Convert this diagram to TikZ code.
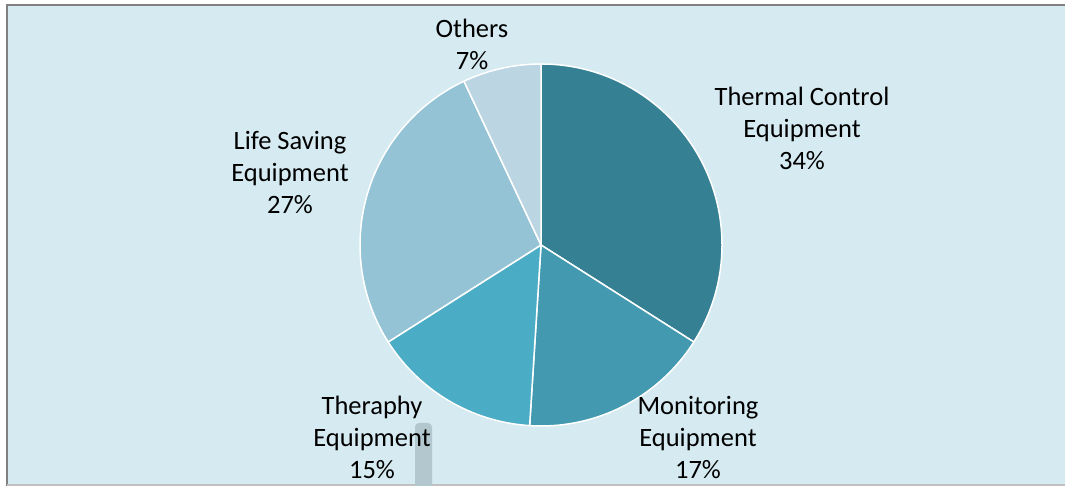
\documentclass[tikz,border=0pt]{standalone}
\usepackage{fontspec}
\setmainfont{Carlito}
\definecolor{bgblue}{RGB}{214, 234, 241}
\definecolor{framegray}{RGB}{128, 128, 128}
\definecolor{bargray}{RGB}{178, 199, 206}
\definecolor{thermalc}{RGB}{54, 128, 148}
\definecolor{monitorc}{RGB}{66, 153, 176}
\definecolor{therapyc}{RGB}{75, 172, 198}
\definecolor{lifec}{RGB}{147, 195, 213}
\definecolor{othersc}{RGB}{187, 214, 226}
\usepackage{tikz}
\usetikzlibrary{positioning, calc}

\tikzset{
  slice/.style={draw=white, line width=1.5pt, line join=round},
  pielabel/.style={align=center, inner sep=0pt, font=\fontsize{26.5}{32}\selectfont}
}

\begin{document}
\begin{tikzpicture}[x=1pt, y=1pt]
  \useasboundingbox (0,0) rectangle (1065,486);

  % Background and frame
  \fill[bgblue] (7,0) rectangle (1065,481);
  \draw[framegray, line width=2.5pt] (7,0) -- (7,481) -- (1065,481);
  \draw[framegray!50, line width=1.5pt] (7,1) -- (1065,1);

  % Pie
  \coordinate (c) at (541,241);
  \fill[thermalc, slice] (c) -- ++(90:181) arc[start angle=90, end angle=-32.4, radius=181] -- cycle;
  \fill[monitorc, slice] (c) -- ++(-32.4:181) arc[start angle=-32.4, end angle=-93.6, radius=181] -- cycle;
  \fill[therapyc, slice] (c) -- ++(-93.6:181) arc[start angle=-93.6, end angle=-147.6, radius=181] -- cycle;
  \fill[lifec, slice] (c) -- ++(-147.6:181) arc[start angle=-147.6, end angle=-244.8, radius=181] -- cycle;
  \fill[othersc, slice] (c) -- ++(-244.8:181) arc[start angle=-244.8, end angle=-270, radius=181] -- cycle;

  % Bar under the label
  \fill[bargray] (415,0) [rounded corners=4pt]-- (415,63) -- (432,63) [sharp corners]-- (432,0) -- cycle;

  % Labels
  \node[pielabel] (others) at (472,442) {Others\\7\%};
  \node[pielabel] (thermal) at (802,358) {Thermal Control\\Equipment\\34\%};
  \node[pielabel] (life) at (290,313) {Life Saving\\Equipment\\27\%};
  \node[pielabel] (therapy) at (372,49) {Theraphy\\Equipment\\15\%};
  \node[pielabel] (monitor) at (698,49) {Monitoring\\Equipment\\17\%};
\end{tikzpicture}
\end{document}
